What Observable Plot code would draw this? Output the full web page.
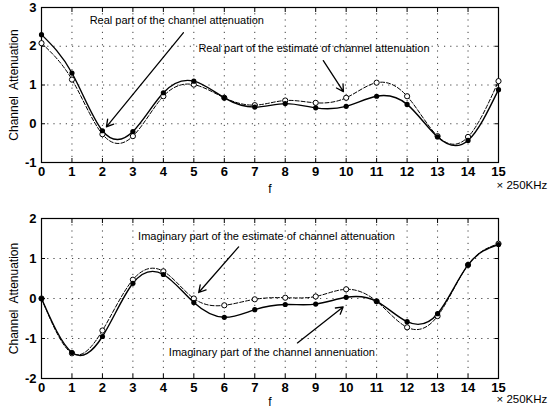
<!DOCTYPE html>
<html><head><meta charset="utf-8">
<script src="https://cdn.jsdelivr.net/npm/d3@7"></script>
<script src="https://cdn.jsdelivr.net/npm/@observablehq/plot@0.6"></script>
<style>body{margin:0;background:#fff} #c svg{display:block}</style>
</head><body><div id="c"></div><script>
const f = [0,1,2,3,4,5,6,7,8,9,10,11,12,13,14,15];
const realChannel  = [2.30,1.31,-0.18,-0.20,0.80,1.10,0.67,0.43,0.52,0.41,0.45,0.71,0.50,-0.34,-0.43,0.88];
const realEstimate = [2.08,1.14,-0.27,-0.32,0.71,1.01,0.67,0.48,0.60,0.54,0.67,1.06,0.71,-0.32,-0.34,1.10];
const imagChannel  = [0.00,-1.35,-0.95,0.38,0.60,-0.10,-0.47,-0.28,-0.15,-0.14,0.03,-0.07,-0.58,-0.38,0.84,1.35];
const imagEstimate = [0.00,-1.37,-0.80,0.47,0.68,0.00,-0.17,-0.02,0.02,0.05,0.23,-0.07,-0.72,-0.44,0.84,1.37];
const xTicks = f;
const yTicksTop = [-1,0,1,2,3];
const yTicksBottom = [-2,-1,0,1,2];
const yLabel = "Channel  Attenuation";
const xLabel = "f";
const unitLabel = "× 250KHz";
const annTop = [
  {text:"Real part of the channel attenuation", x:1.58, y:2.66, ax1:4.66, ay1:2.35, ax2:2.13, ay2:-0.08},
  {text:"Real part of the estimate of channel attenuation", x:5.15, y:1.94, ax1:9.25, ay1:1.63, ax2:9.91, ay2:0.83}
];
const annBottom = [
  {text:"Imaginary part of the estimate of channel attenuation", x:3.17, y:1.55, ax1:6.47, ay1:1.29, ax2:5.16, ay2:0.15},
  {text:"Imaginary part of the channel annenuation", x:4.18, y:-1.34, ax1:8.40, ay1:-1.11, ax2:9.90, ay2:-0.21}
];

function panel(channel, estimate, yDomain, yTicks, ann, m) {
  const ch = f.map((x,i)=>({f:x, v:channel[i]}));
  const es = f.map((x,i)=>({f:x, v:estimate[i]}));
  const fmt = d => String(d);
  return Plot.plot({
    width:553, height:205,
    marginTop:m.top, marginBottom:m.bottom, marginLeft:41, marginRight:55,
    style:{fontFamily:"'Liberation Sans', Arial, sans-serif", fontSize:"12px", background:"#fff", color:"#000"},
    x:{domain:[0,15]},
    y:{domain:yDomain},
    marks:[
      Plot.gridX(xTicks, {stroke:"#000", strokeOpacity:0.75, strokeDasharray:"1.2,5"}),
      Plot.gridY(yTicks, {stroke:"#000", strokeOpacity:0.75, strokeDasharray:"1.2,5"}),
      Plot.axisX(xTicks, {anchor:"bottom", tickSize:0, tickPadding:4, fontSize:13, fontWeight:"bold", label:null, tickFormat:fmt}),
      Plot.axisX(xTicks, {anchor:"bottom", tickSize:-4, tickFormat:()=>"", label:null}),
      Plot.axisX(xTicks, {anchor:"top", tickSize:-4, tickFormat:()=>"", label:null}),
      Plot.axisY(yTicks, {anchor:"left", tickSize:0, tickPadding:5, fontSize:13, fontWeight:"bold", label:null, tickFormat:fmt}),
      Plot.axisY(yTicks, {anchor:"left", tickSize:-4, tickFormat:()=>"", label:null}),
      Plot.axisY(yTicks, {anchor:"right", tickSize:-4, tickFormat:()=>"", label:null}),
      Plot.frame({stroke:"#000", strokeWidth:1.2}),
      Plot.line(es, {x:"f", y:"v", curve:"natural", stroke:"#000", strokeWidth:1, strokeDasharray:"4,2"}),
      Plot.line(ch, {x:"f", y:"v", curve:"natural", stroke:"#000", strokeWidth:1.4}),
      Plot.dot(es, {x:"f", y:"v", r:2.6, fill:"#fff", stroke:"#000", strokeWidth:1}),
      Plot.dot(ch, {x:"f", y:"v", r:2.6, fill:"#000"}),
      Plot.arrow(ann, {x1:"ax1", y1:"ay1", x2:"ax2", y2:"ay2", stroke:"#000", strokeWidth:1.3, headLength:9}),
      Plot.text(ann, {x:"x", y:"y", text:"text", textAnchor:"start", fontSize:11, fill:"#000"}),
      Plot.text([yLabel], {frameAnchor:"left", dx:-27, rotate:-90, textAnchor:"middle", fontSize:12, fill:"#000"}),
      Plot.text([xLabel], {frameAnchor:"bottom", dy:m.fDy, fontSize:12, fill:"#000"}),
      Plot.text([unitLabel], {x:[15], frameAnchor:"bottom", dy:m.uDy, dx:-2, textAnchor:"start", fontSize:11.5, fill:"#000"})
    ]
  });
}
const c = document.getElementById("c");
c.appendChild(panel(realChannel, realEstimate, [-1,3], yTicksTop, annTop, {top:7, bottom:43, fDy:30, uDy:26}));
c.appendChild(panel(imagChannel, imagEstimate, [-2,2], yTicksBottom, annBottom, {top:13, bottom:32, fDy:27, uDy:24}));
</script></body></html>
